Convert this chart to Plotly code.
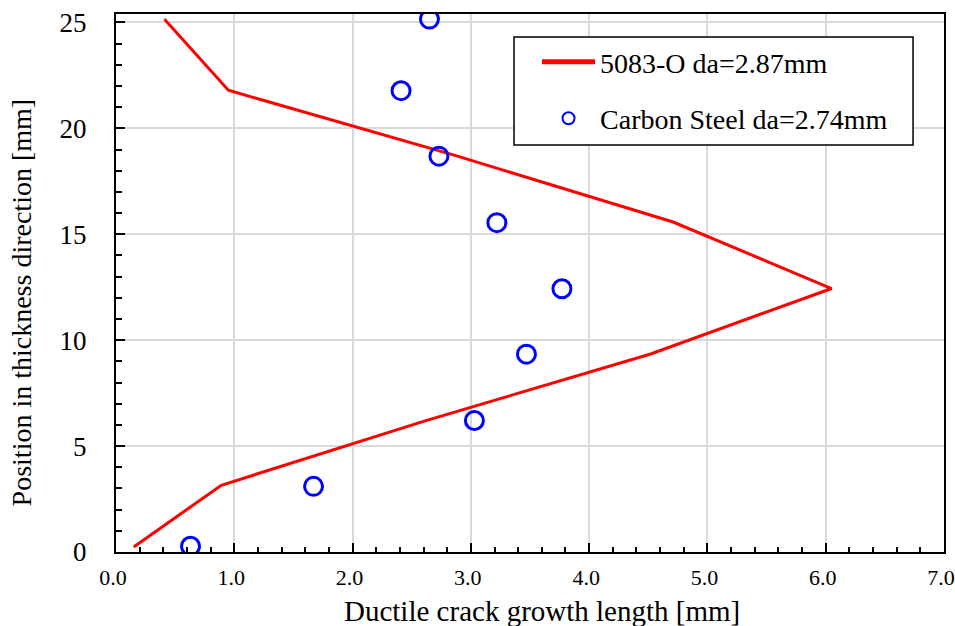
import plotly.graph_objects as go

# 5083-O aluminium: crack growth profile (line)
al_x = [0.15, 0.89, 2.62, 4.52, 6.05, 4.71, 2.88, 0.95, 0.41]
al_y = [0.24, 3.15, 6.20, 9.35, 12.44, 15.58, 18.70, 21.80, 25.15]

# Carbon steel: measured points
cs_x = [0.63, 1.67, 3.03, 3.47, 3.77, 3.22, 2.73, 2.41, 2.65]
cs_y = [0.27, 3.10, 6.21, 9.34, 12.43, 15.55, 18.69, 21.78, 25.16]

al_name = "5083-O da=2.87mm"
cs_name = "Carbon Steel da=2.74mm"

x_title = "Ductile crack growth length [mm]"
y_title = "Position in thickness direction [mm]"

FONT = "Liberation Serif"

fig = go.Figure()
fig.add_trace(go.Scatter(
    x=al_x, y=al_y, mode="lines", name=al_name, legendgroup="a",
    line=dict(color="#ff0000", width=3),
))
fig.add_trace(go.Scatter(
    x=cs_x, y=cs_y, mode="markers", name=cs_name, legendgroup="b",
    marker=dict(symbol="circle-open", size=18, color="#0000ff",
                line=dict(width=3, color="#0000ff")),
))

axis_common = dict(
    ticks="inside", ticklen=9, tickwidth=2, tickcolor="black",
    showline=True, linewidth=2, linecolor="black", mirror=True,
    showgrid=True, gridcolor="#d9d9d9", gridwidth=2,
    zeroline=False, automargin=False, ticklabeloverflow="allow",
)

fig.update_xaxes(
    range=[0, 7], dtick=1, tick0=0, tickformat=".1f",
    tickfont=dict(family=FONT, size=22, color="black"),
    ticklabelstandoff=5, ticklabelshift=-3,
    minor=dict(dtick=0.2, ticks="inside", ticklen=5, tickwidth=1.5,
               tickcolor="black", showgrid=False),
    **axis_common,
)
fig.update_yaxes(
    range=[0, 25.4], dtick=5, tick0=0,
    tickfont=dict(family=FONT, size=27, color="black"),
    ticklabelstandoff=22,
    minor=dict(dtick=1, ticks="inside", ticklen=6, tickwidth=1.5,
               tickcolor="black", showgrid=False),
    **axis_common,
)

# axis titles
fig.add_annotation(text=x_title, xref="paper", yref="paper",
                   x=0.5145, y=-0.1097, xanchor="center", yanchor="middle",
                   showarrow=False,
                   font=dict(family=FONT, size=29, color="black"))
fig.add_annotation(text=y_title, xref="paper", yref="paper",
                   x=-0.1147, y=0.464, xanchor="center", yanchor="middle",
                   textangle=-90, showarrow=False,
                   font=dict(family=FONT, size=28, color="black"))

# legend frame
fig.add_shape(type="rect", xref="paper", yref="paper",
              x0=0.4807, x1=0.9626, y0=0.7565, y1=0.9572,
              fillcolor="white", line=dict(color="black", width=1.5),
              layer="above")

fig.update_layout(
    width=955, height=626,
    margin=dict(l=116, r=11, t=14, b=74),
    paper_bgcolor="white", plot_bgcolor="white",
    font=dict(family=FONT, color="black"),
    legend=dict(
        x=0.5085, y=0.957, xanchor="left", yanchor="top",
        bgcolor="rgba(0,0,0,0)", borderwidth=0,
        font=dict(family=FONT, size=28, color="black"),
        itemwidth=53, tracegroupgap=17, itemsizing="constant",
        traceorder="grouped",
    ),
)

fig.write_html("out.html")
